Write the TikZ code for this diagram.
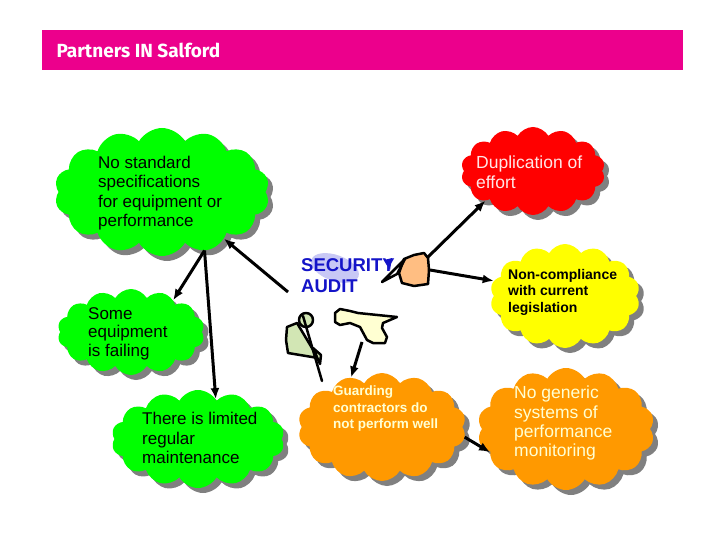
\documentclass[tikz,border=0pt]{standalone}
\usepackage{fontspec}
\setmainfont{Liberation Sans}
\newfontfamily\headfont{Fira Sans}
\usetikzlibrary{arrows.meta,shapes.symbols,shadows}

\definecolor{salfordpink}{HTML}{EC008C}
\definecolor{cloudgreen}{HTML}{00FF00}
\definecolor{cloudred}{HTML}{FF0000}
\definecolor{cloudyellow}{HTML}{FFFF00}
\definecolor{cloudorange}{HTML}{FF9900}
\definecolor{auditblue}{HTML}{1414C8}
\definecolor{peach}{HTML}{FFBE82}
\definecolor{sage}{HTML}{D2E6B4}
\definecolor{cream}{HTML}{FFFFD2}
\definecolor{lavender}{HTML}{C8C8F5}
\definecolor{palepink}{HTML}{FFE6E6}

\begin{document}
\begin{tikzpicture}[x=1pt, y=-1pt, >={Latex[length=11pt,width=9pt]},
  bubble/.style={cloud, cloud puffs=14, cloud puff arc=120, cloud ignores aspect, draw=none, inner sep=0pt,
    drop shadow={shadow xshift=5pt, shadow yshift=-5pt, fill=black!50, opacity=1}},
  bubbletext/.style={anchor=north west, inner sep=0pt, align=left},
  conn/.style={->, line width=3pt},
  doodle/.style={line width=2.5pt, line join=round, line cap=round}]
	\useasboundingbox[fill=white] (0,0) rectangle (720,540);
	% header
	\fill[salfordpink] (42,30) rectangle (683,70);
	\node[anchor=west, text=white, font=\headfont\bfseries\fontsize{19}{22}\selectfont] (title) at (53,50) {Partners IN Salford};
	% clouds
	\node[bubble, fill=cloudgreen, minimum width=215pt, minimum height=128pt] (nostd) at (162,192) {};
	\node[bubble, fill=cloudred, minimum width=144pt, minimum height=88pt] (dupl) at (533,171) {};
	\node[bubble, fill=cloudyellow, minimum width=150pt, minimum height=104pt] (noncomp) at (565,296) {};
	\node[bubble, fill=cloudgreen, minimum width=147pt, minimum height=86pt] (failing) at (131,332) {};
	\node[bubble, fill=cloudgreen, minimum width=173pt, minimum height=98pt] (maint) at (198,439) {};
	\node[bubble, fill=cloudorange, minimum width=168pt, minimum height=108pt] (guard) at (382,427) {};
	\node[bubble, fill=cloudorange, minimum width=177pt, minimum height=122pt] (nogen) at (566,429) {};
	% cloud texts
	\node[bubbletext, font=\fontsize{17}{19.3}\selectfont] (nostd-txt) at (98,156) {No standard\\specifications\\for equipment or\\performance};
	\node[bubbletext, text=palepink, font=\fontsize{17.5}{20}\selectfont] (dupl-txt) at (476,156) {Duplication of\\effort};
	\node[bubbletext, font=\bfseries\fontsize{14}{16.5}\selectfont] (noncomp-txt) at (508,269) {Non-compliance\\with current\\legislation};
	\node[bubbletext, font=\fontsize{17}{18.5}\selectfont] (failing-txt) at (88,307) {Some\\equipment\\is failing};
	\node[bubbletext, font=\fontsize{17}{19.5}\selectfont] (maint-txt) at (142,412) {There is limited\\regular\\maintenance};
	\node[bubbletext, text=cream, font=\bfseries\fontsize{13.5}{16.5}\selectfont] (guard-txt) at (333,386) {Guarding\\contractors do\\not perform well};
	\node[bubbletext, text=cream, font=\fontsize{17.5}{19.3}\selectfont] (nogen-txt) at (514,386) {No generic\\systems of\\performance\\monitoring};
	% security audit figure
	\fill[lavender, rotate around={-20:(335,268)}] (335,268) ellipse [x radius=25, y radius=13];
	\node[bubbletext, text=auditblue, font=\bfseries\fontsize{18.5}{21}\selectfont] (audit) at (301,258) {SECURITY\\AUDIT};
	\draw[doodle, fill=peach] (404,259) -- (414,255) -- (424,253) -- (428,258) -- (429,270) -- (428,284) -- (414,286) -- (402,283) -- (399,273) -- cycle;
	\fill[auditblue] (384,260) -- (392,258) -- (390,270) -- cycle;
	\draw[doodle] (382,282) -- (405,259) -- (397,274) -- cycle;
	\draw[doodle, fill=sage] (287,327) -- (297,323) -- (318,358) -- (288,353) -- (286,340) -- cycle;
	\draw[doodle, fill=sage] (306,320) circle (7);
	\draw[doodle, fill=sage] (313,348) -- (321,355) -- (320,364) -- cycle;
	\draw[doodle] (303,316) -- (322,381);
	\draw[doodle, fill=cream] (335,313) -- (340,309) -- (350,311) -- (358,313) -- (397,317) -- (383,323) -- (382,328) -- (387,337) -- (385,343) -- (373,343) -- (367,340) -- (360,327) -- (350,323) -- (340,325) -- (335,322) -- cycle;
	\coordinate (hand) at (288,292);
	\coordinate (blobtop) at (428,257);
	\coordinate (blobside) at (430,270);
	\coordinate (flagfoot) at (362,342);
	% connectors
	\draw[conn] (hand) -- (nostd.-37);
	\draw[conn] (nostd.-54) -- (failing.37);
	\draw[conn] (nostd.-54) -- (maint.66);
	\draw[conn] (blobtop) -- (dupl.212);
	\draw[conn] (blobside) -- (noncomp.168);
	\draw[conn] (flagfoot) -- (guard.122);
	\draw[conn] (guard.-7) -- (nogen.197);
\end{tikzpicture}
\end{document}
